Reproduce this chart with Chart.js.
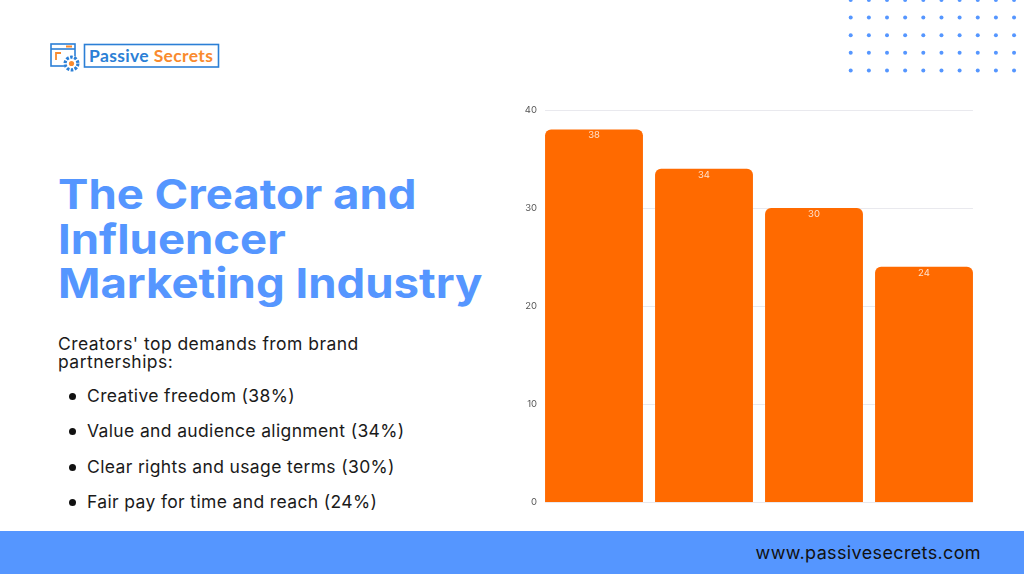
<!DOCTYPE html>
<html>
<head>
<meta charset="utf-8">
<script src="https://cdn.jsdelivr.net/npm/chart.js@4"></script>
<style>
  html, body { margin: 0; padding: 0; background: #fff; }
  #page { position: relative; width: 1024px; height: 576px; overflow: hidden; background: #fff; font-family: Inter, "Open Sans", sans-serif; color: #1a1a1a; }
  #page > * { position: absolute; }
  #title { left: 58px; top: 172px; margin: 0; font-size: 41px; line-height: 44.5px; font-weight: 700; color: #5596ff; white-space: nowrap; transform: scaleX(1.11); transform-origin: left top; }
  #intro { left: 58px; top: 335px; margin: 0; font-size: 17.5px; line-height: 18px; letter-spacing: 0.46px; white-space: nowrap; }
  #points { left: 0; top: 378px; margin: 0; padding: 0; list-style: none; font-size: 17.5px; letter-spacing: 0.36px; }
  #points li { position: relative; padding-left: 87px; height: 35.4px; line-height: 36px; white-space: nowrap; }
  #points li::before { content: ""; position: absolute; left: 69px; top: 15px; width: 7px; height: 7px; border-radius: 50%; background: #111; }
  #band { left: 0; top: 531px; width: 1024px; height: 43px; background: #5596ff; }
  #site { right: 43px; top: 540.5px; font-size: 18px; line-height: 24px; letter-spacing: 0.36px; color: #111; white-space: nowrap; }
  #chartWrap { left: 500px; top: 90px; width: 479px; height: 430px; }
</style>
</head>
<body>
<div id="page">
  <svg id="logo" style="left:48px;top:40px" width="174" height="34" viewBox="0 0 174 34">
    <rect x="3" y="4" width="24" height="22" fill="none" stroke="#2b7fd6" stroke-width="1.6"/>
    <line x1="3" y1="9" x2="27" y2="9" stroke="#2b7fd6" stroke-width="1.6"/>
    <rect x="18" y="5.5" width="6" height="2" fill="#f98a2e"/>
    <path d="M8 20 V13 H13" fill="none" stroke="#f98a2e" stroke-width="1.8"/>
    <circle cx="23.5" cy="23.5" r="8" fill="#fff"/>
    <circle cx="23.5" cy="23.5" r="6.4" fill="none" stroke="#2b7fd6" stroke-width="3.2" stroke-dasharray="2.6 1.4"/>
    <circle cx="23.5" cy="23.5" r="2.6" fill="#f98a2e"/>
    <rect x="36.5" y="4.5" width="134" height="22.5" fill="none" stroke="#2b7fd6" stroke-width="1.6"/>
    <text x="41" y="21.5" font-family="Lato, sans-serif" font-weight="700" font-size="17.5" letter-spacing="0.35" fill="#2b7fd6">Passive <tspan fill="#f98a2e">Secrets</tspan></text>
  </svg>
  <svg id="dots" style="left:840px;top:0" width="184" height="80"></svg>

  <h1 id="title">The Creator and<br>Influencer<br>Marketing Industry</h1>
  <p id="intro">Creators' top demands from brand<br>partnerships:</p>
  <ul id="points"></ul>

  <div id="chartWrap"><canvas id="demandChart"></canvas></div>

  <div id="band"></div>
  <div id="site">www.passivesecrets.com</div>
</div>

<script>
const categories = ["Creative freedom", "Value and audience alignment", "Clear rights and usage terms", "Fair pay for time and reach"];
const shares = [38, 34, 30, 24];
const tickValues = [0, 10, 20, 30, 40];

// bullet list comes from the same data as the bars
const list = document.getElementById("points");
categories.forEach((name, i) => {
    const li = document.createElement("li");
    li.textContent = name + " (" + shares[i] + "%)";
    list.appendChild(li);
});

// decorative dot grid, top right
const dots = document.getElementById("dots");
let dotMarkup = "";
for (let row = 0; row < 5; row++) {
    for (let col = 0; col < 10; col++) {
        dotMarkup += '<circle cx="' + (10.7 + col * 18.15) + '" cy="' + (row * 17.6) + '" r="2" fill="#5596ff"/>';
    }
}
dots.innerHTML = dotMarkup;

// grid lines stop at the outer bar edges, not at the category edges
const insetGrid = {
    id: "insetGrid",
    beforeDatasetsDraw(chart) {
        const { ctx, scales: { x, y } } = chart;
        const step = x.getPixelForValue(1) - x.getPixelForValue(0);
        const inset = step * (1 - 0.89) / 2;
        ctx.save();
        ctx.strokeStyle = "#e9e9ee";
        ctx.lineWidth = 1;
        tickValues.forEach(v => {
            const py = Math.round(y.getPixelForValue(v)) + 0.5;
            ctx.beginPath();
            ctx.moveTo(x.left + inset, py);
            ctx.lineTo(x.right - inset, py);
            ctx.stroke();
        });
        ctx.restore();
    }
};

// value labels sit just inside the top of each bar
const barValues = {
    id: "barValues",
    afterDatasetsDraw(chart) {
        const { ctx } = chart;
        ctx.save();
        ctx.fillStyle = "rgba(255, 255, 255, 0.8)";
        ctx.font = "9.5px Inter, sans-serif";
        ctx.textAlign = "center";
        ctx.textBaseline = "middle";
        chart.getDatasetMeta(0).data.forEach((bar, i) => {
            ctx.fillText(shares[i], bar.x, bar.y + 6);
        });
        ctx.restore();
    }
};

new Chart(document.getElementById("demandChart"), {
    type: "bar",
    data: {
        labels: categories,
        datasets: [{
            data: shares,
            backgroundColor: "#ff6a00",
            barPercentage: 1,
            categoryPercentage: 0.89,
            borderRadius: { topLeft: 6, topRight: 6, bottomLeft: 0, bottomRight: 0 },
            borderSkipped: "bottom"
        }]
    },
    options: {
        responsive: true,
        maintainAspectRatio: false,
        animation: false,
        layout: { padding: { top: 20, bottom: 18 } },
        plugins: { legend: { display: false }, tooltip: { enabled: false } },
        scales: {
            x: { display: false },
            y: {
                min: 0,
                max: 40,
                afterFit(scale) { scale.width = 39; },
                afterBuildTicks(scale) { scale.ticks = tickValues.map(value => ({ value })); },
                grid: { display: false, drawTicks: false },
                border: { display: false },
                ticks: { color: "#555", padding: 2, font: { family: "Inter", size: 9.5 } }
            }
        }
    },
    plugins: [insetGrid, barValues]
});
</script>
</body>
</html>
